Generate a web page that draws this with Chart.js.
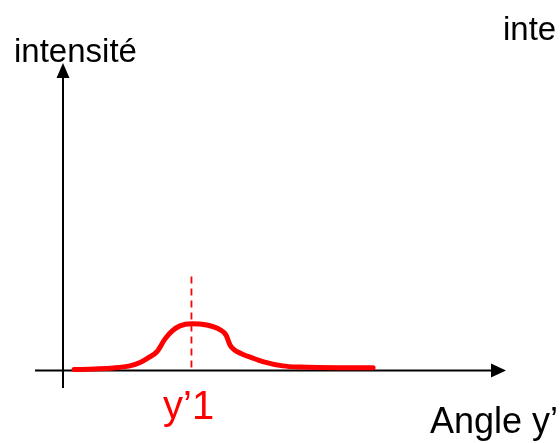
<!DOCTYPE html>
<html>
<head>
<meta charset="utf-8">
<script src="https://cdn.jsdelivr.net/npm/chart.js@4"></script>
<style>
  html, body { margin: 0; padding: 0; background: #fff; }
  canvas { display: block; }
</style>
</head>
<body>
<canvas id="chart" width="560" height="443"></canvas>
<script>
// intensity profile around the angle y'1
const angles = [2.5, 7.2, 11.3, 15.1, 17.4, 19.2, 21.2, 23.0, 24.6, 26.4, 29.0, 32.4, 35.4, 36.8, 37.7, 38.6, 40.4, 42.7, 45.1, 49.6, 53.5, 62.5, 70.0];
const intensity = [0.3, 0.5, 0.8, 1.5, 2.6, 4.1, 6.1, 10.2, 12.8, 14.5, 15.2, 14.8, 13.3, 11.5, 8.3, 6.8, 5.4, 4.1, 2.9, 1.5, 1.1, 0.9, 0.9];

// marker for the peak position y'1
const peakAngle = 29;
const markerRange = [1, 31.6];

const xRange = [0, 100];
const yRange = [0, 100];

const RED = '#ff0000';
const FONT = '"Liberation Sans", Arial, sans-serif';

// hand-drawn style axes with arrow heads plus the labels
const axesPlugin = {
  id: 'axesPlugin',
  beforeDatasetsDraw(chart) {
    const { ctx, scales: { x, y } } = chart;
    const x0 = x.getPixelForValue(0);
    const y0 = y.getPixelForValue(0);
    const xEnd = x.getPixelForValue(xRange[1]);
    const yEnd = y.getPixelForValue(yRange[1]);
    ctx.save();
    ctx.strokeStyle = '#000';
    ctx.fillStyle = '#000';
    ctx.lineWidth = 2;
    ctx.beginPath();
    ctx.moveTo(35, y0);
    ctx.lineTo(xEnd - 12, y0);
    ctx.moveTo(x0, 388);
    ctx.lineTo(x0, yEnd + 12);
    ctx.stroke();
    // arrow heads
    ctx.beginPath();
    ctx.moveTo(xEnd, y0);
    ctx.lineTo(xEnd - 15, y0 - 7);
    ctx.lineTo(xEnd - 15, y0 + 7);
    ctx.closePath();
    ctx.fill();
    ctx.beginPath();
    ctx.moveTo(x0, yEnd);
    ctx.lineTo(x0 - 6.5, yEnd + 15);
    ctx.lineTo(x0 + 6.5, yEnd + 15);
    ctx.closePath();
    ctx.fill();
    ctx.restore();
  },
  afterDraw(chart) {
    const { ctx } = chart;
    ctx.save();
    ctx.textBaseline = 'alphabetic';
    ctx.textAlign = 'left';
    ctx.fillStyle = '#000';
    ctx.font = '33px ' + FONT;
    ctx.fillText('intensité', 14, 62);
    ctx.fillText('inte', 503, 40);
    ctx.font = '36px ' + FONT;
    ctx.fillText('Angle y’', 430, 433);
    ctx.fillStyle = RED;
    ctx.font = '40px ' + FONT;
    ctx.fillText('y’1', 163, 419);
    ctx.restore();
  }
};

new Chart(document.getElementById('chart'), {
  type: 'scatter',
  data: {
    datasets: [
      {
        data: angles.map((a, i) => ({ x: a, y: intensity[i] })),
        showLine: true,
        borderColor: RED,
        borderWidth: 5,
        pointRadius: 0,
        cubicInterpolationMode: 'monotone',
        borderCapStyle: 'round',
        borderJoinStyle: 'round',
        clip: false
      },
      {
        data: markerRange.map(v => ({ x: peakAngle, y: v })),
        showLine: true,
        borderColor: RED,
        borderWidth: 1.8,
        borderDash: [7, 5],
        pointRadius: 0,
        clip: false
      }
    ]
  },
  options: {
    responsive: false,
    animation: false,
    layout: { padding: { left: 63, right: 54, top: 63, bottom: 72.5 } },
    plugins: { legend: { display: false }, tooltip: { enabled: false } },
    scales: {
      x: { type: 'linear', min: xRange[0], max: xRange[1], display: false },
      y: { type: 'linear', min: yRange[0], max: yRange[1], display: false }
    }
  },
  plugins: [axesPlugin]
});
</script>
</body>
</html>
